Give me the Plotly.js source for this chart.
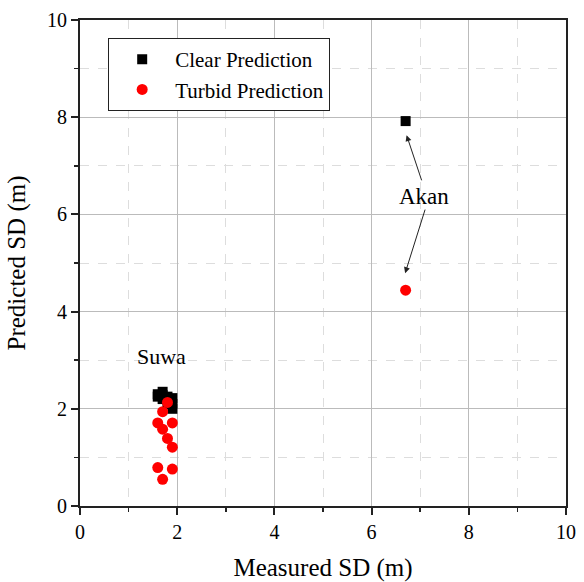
<!DOCTYPE html>
<html>
<head>
<meta charset="utf-8">
<script src="https://cdn.plot.ly/plotly-3.0.1.min.js"></script>
<style>html,body{margin:0;padding:0;background:#fff;}#chart{width:584px;height:582px;}</style>
</head>
<body>
<div id="chart"></div>
<script>
// Data
const clearX = [1.6, 1.7, 1.8, 1.9, 1.7, 1.8, 1.9, 1.6, 1.9, 1.7, 6.7];
const clearY = [2.3, 2.35, 2.25, 2.22, 2.2, 2.1, 2.0, 2.25, 2.1, 2.28, 7.92];
const turbidX = [1.8, 1.7, 1.6, 1.9, 1.7, 1.8, 1.9, 1.6, 1.9, 1.7, 6.7];
const turbidY = [2.13, 1.94, 1.71, 1.71, 1.58, 1.39, 1.21, 0.79, 0.76, 0.55, 4.44];
const seriesNames = ["Clear Prediction", "Turbid Prediction"];
const xTitle = "Measured SD (m)";
const yTitle = "Predicted SD (m)";

const serifFam = "Liberation Serif";

const traces = [
  {x: clearX, y: clearY, name: seriesNames[0], type: "scatter", mode: "markers",
   marker: {symbol: "square", size: 10, color: "#000"}},
  {x: turbidX, y: turbidY, name: seriesNames[1], type: "scatter", mode: "markers",
   marker: {symbol: "circle", size: 11, color: "#ff0000"}}
];

function makeAxis(title) {
  return {
    range: [0, 10], dtick: 2, tick0: 0,
    showline: true, linecolor: "#222", linewidth: 2, mirror: true,
    ticks: "outside", ticklen: 7, tickwidth: 2, tickcolor: "#222",
    showgrid: true, gridcolor: "#bbbbbb", gridwidth: 1,
    zeroline: false,
    tickfont: {family: serifFam, size: 20, color: "#000"},
    title: {text: title, font: {family: serifFam, size: 25, color: "#000"}},
    minor: {dtick: 1, tick0: 0, ticks: "outside", ticklen: 4, tickwidth: 1.5, tickcolor: "#222",
            showgrid: true, gridcolor: "#dddddd", griddash: "dash", gridwidth: 1},
    fixedrange: true
  };
}

const xa = makeAxis(xTitle); xa.title.standoff = 16;
const ya = makeAxis(yTitle); ya.title.standoff = 14;

const layout = {
  width: 584, height: 582,
  margin: {l: 80, r: 18, t: 20, b: 76},
  paper_bgcolor: "#fff", plot_bgcolor: "#fff",
  font: {family: serifFam, color: "#000"},
  xaxis: xa, yaxis: ya,
  showlegend: true,
  legend: {x: 0.058, y: 0.963, xanchor: "left", yanchor: "top", itemwidth: 56,
           bordercolor: "#222", borderwidth: 1, bgcolor: "#fff",
           font: {family: serifFam, size: 21, color: "#000"}, tracegroupgap: 0},
  annotations: [
    {x: 1.68, y: 3.07, xref: "x", yref: "y", text: "Suwa", showarrow: false,
     font: {family: serifFam, size: 22, color: "#000"}},
    {x: 7.08, y: 6.36, xref: "x", yref: "y", text: "Akan", showarrow: false,
     font: {family: serifFam, size: 23, color: "#000"}},
    {x: 6.72, y: 7.63, ax: 7.04, ay: 6.67, xref: "x", yref: "y", axref: "x", ayref: "y",
     text: "", showarrow: true, arrowhead: 2, arrowsize: 1.2, arrowwidth: 1, arrowcolor: "#222"},
    {x: 6.69, y: 4.79, ax: 7.11, ay: 6.13, xref: "x", yref: "y", axref: "x", ayref: "y",
     text: "", showarrow: true, arrowhead: 2, arrowsize: 1.2, arrowwidth: 1, arrowcolor: "#222"}
  ]
};

Plotly.newPlot("chart", traces, layout, {displayModeBar: false, staticPlot: true});
</script>
</body>
</html>
